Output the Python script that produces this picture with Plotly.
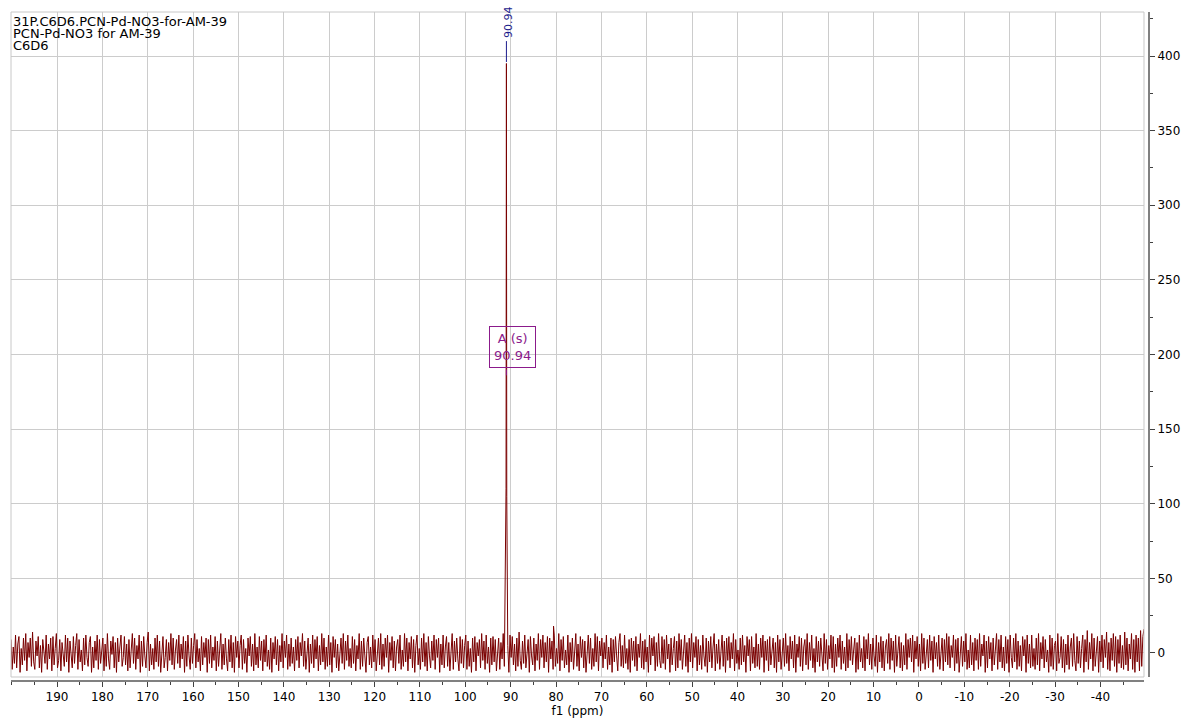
import numpy as np
import plotly.graph_objects as go

# ---------------- data ----------------
title_lines = ["31P.C6D6.PCN-Pd-NO3-for-AM-39", "PCN-Pd-NO3 for AM-39", "C6D6"]

ppm_start, ppm_end = 200.14, -49.6

noise_int = [
    9, -11, 4, -7, 12, -10, 6, 11, -13, 3, -8, 10, -5, 13, -12, 7, -3, 10, -9, 14, -6, -11, 8, -2, 11,
    -10, 5, -13, 9, 2, -7, 12, -11, 6, -4, 10, -12, 11, -8, 3, 13, -10, -5, 9, -12, 7, 1, -9, 12, -6,
    10, -13, 8, -2, -10, 11, -7, 5, 13, -11, 9, -6, 2, -12, 10, -8, 12, -3, -9, 7, 11, -13, 4, -10, 8,
    -5, 12, -11, 9, -7, 3, 10, -12, 6, -9, 13, -4, -11, 8, -1, 11, -10, 7, -13, 10, -6, 4, 12, -9, -3,
    11, -8, 6, -12, 9, -10, 2, 13, -7, 10, -11, 5, -4, 12, -13, 8, -9, 11, -2, -10, 7, 14, -12, 6, -8,
    3, -11, 10, -6, 12, -9, 8, -13, 4, 11, -10, -3, 9, -12, 7, -5, 13, -8, 10, -11, 2, 9, -7, 12, -10,
    6, -4, 11, -13, 8, -9, 12, -2, -11, 10, -7, 5, 13, -10, 9, -6, 3, -12, 11, -8, 7, -3, 10, -13, 9,
    -7, 12, -10, 4, -5, 11, -12, 8, -9, 2, 13, -11, 6, -8, 10, -4, -12, 9, -6, 12, -10, 7, -13, 11, -3,
    8, -10, 5, 12, -11, 9, -7, 3, -13, 10, -2, 11, -9, 6, -12, 13, -8, 4, -10, 11, -5, 8, -12, 9, -6,
    12, -9, 2, -11, 10, -13, 7, -4, 11, -8, 9, -12, 5, -6, 13, -10, 8, -3, 12, -11, 6, -9, 10, -7, 4,
    -12, 9, -5, 11, -10, 7, -2, 13, -9, 8, -11, 3, 10, -13, 6, -7, 12, -10, 9, -4, 11, -12, 5, -8, 13,
    -6, 10, -11, 4, -9, 12, -8, 7, -13, 11, -3, 9, -10, 6, -12, 2, 10, -7, 13, -11, 8, -5, 12, -9, 3,
    -10, 11, -7, 9, -12, 5, -4, 13, -11, 8, -9, 10, -2, -13, 7, 11, -8, 4, -10, 12, -6, 9, -12, 3, 10,
    -8, 13, -11, 6, -9, 10, -3, 12, -13, 7, -5, 11, -10, 8, -12, 4, 9, -7, 12, -11, 2, -9, 13, -6, 10,
    -12, 7, -4, 11, -10, 9, -13, 5, 12, -8, 3, -11, 10, -6, 13, -9, 7, -12, 11, -2, -10, 8, -5, 12, -11,
    9, -3, 10, -13, 6, -8, 12, -10, 4, 11, -9, 7, -12, 2, 13, -11, 8, -6, 10, -4, -12, 11, -7, 9, -10,
    5, 12, -11, 8, -9, 3, -13, 10, -6, 11, -12, 7, -2, 9, -10, 13, -5, 8, -11, 12, -7, 4, -13, 10, -8,
    11, -6, 9, -12, 2, 10, -11, 7, -4, 13, -9, 8, -10, 5, -13, 12, -3, 11, -8, 6, -12, 10, -9, 14, -5,
    -11, 8, -7, 12, -10, 4, 9, -13, 11, -2, -8, 10, -12, 6, -5, 13, -11, 9, -3, 12, -10, 7, -6, 11, -13,
    10, -4, 8, -11, 12, -9, 3, -7, 13, -12, 9, -5, 11, -10, 2, -8, 12, -13, 7, -6, 10, -11, 4, 13, -9,
    6, -12, 11, -3, 9, -10, 8, -13, 5, 12, -7, 10, -11, 3, -9, 13, -6, 11, -12, 8, -2, 10, -10, 7, -4,
    12, -11, 4, -8, 10, -13, 9, -6, 11, -2, -12, 7, 13, -9, 5, -10, 12, -7, 3, -11, 9, -13, 10, -5, 8,
    -9, 11, -12, 6, -3, 13, -10, 8, -11, 9, -6, 4, -13, 12, -8, 10, -2, 11, -12, 7, -9, 13, -5, -10, 11,
    -7, 9, -11, 12, -4, 6, -13, 10, -8, 3, 11, -12, 8, -10, 13, -5, 9, -11, 2, 12, -9, 7, -13, 10, -6,
    13, -10, 7, -3, 11, -12, 9, -8, 5, -11, 12, -2, -9, 10, -13, 8, -6, 11, -10, 4, 13, -12, 6, -7, 9,
    -11, 3, 12, -9, 8, -13, 10, -5, 11, -10, 7, -4, 13, -12, 9, -7, 2, -11, 10, -8, 12, -6, 5, -13, 11,
    -2, 9, -12, 11, -7, 4, -10, 13, -9, 6, -11, 10, -3, 12, -13, 8, -5, 9, -12, 11, -8, 3, 10, -10, 7,
    -13, 12, -6, 9, -11, 2, 10, -9, 13, -7, 5, -12, 11, -4, 8, -10, 12, -13, 6, -3, 11, -9, 10, -12, 4,
    9, -8, 13, -11, 7, -5, 12, -10, 3, -13, 11, -6, 8, -9, 10, -2, -12, 13, -7, 9, -11, 5, -4, 12, -10,
    11, -13, 6, -9, 10, -3, 12, -11, 8, -7, 4, -12, 13, -10, 9, -5, 11, -8, 2, 10, -13, 7, -11, 12, -6,
    3, -10, 11, -12, 9, -4, 13, -8, 6, -11, 10, -2, -9, 12, -13, 7, -6, 11, -10, 8, -12, 4, 9, -7, 13,
    -11, 10, -5, 8, -13, 12, -9, 3, 11, -10, 7, -12, 5, -8, 13, -11, 9, -3, 10, -6, 12, -13, 8, -4, 11,
    -9, 6, -12, 13, -7, 10, -11, 2, 9, -10, 12, -5, 8, -13, 11, -4, 7, -9, 12, -11, 3, 10, -12, 9, -6,
    13, -8, 11, -10, 5, -3, 12, -12, 9, -7, 10, -13, 4, 11, -9, 8, -6, 13, -11, 2, -10, 12, -8, 7, -12,
    10, -5, 9, -11, 13, -9, 6, -2, 12, -13, 8, -10, 11, -4, 7, -12, 10, -8, 3, 13, -11, 9, -6, 12, -10,
    4, -12, 11, -7, 9, -13, 12, -3, -10, 10, -6, 13, -11, 8, -9, 5, -12, 11, -2, 9, -13, 12, -7, 6, -10,
    12, -9, 3, -11, 10, -8, 13, -12, 7, -4, 11, -10, 9, -6, 2, -13, 12, -9, 10, -11, 5, 8, -12, 13, -7,
    -3, 11, -10, 9, -13, 6, -8, 12, -11, 4, 10, -9, 13, -5, -12, 11, -7, 8, -10, 3, 12, -13, 9, -6, 15,
    -11, 7, -4, 13, -12, 10, -9, 2, 11, -13, 8, -6, 12, -10, 9, -3, 14, -11, 7, -12, 10, -5, 13, -9, 11,
    -13, 9, -7, 12, -10, 5, -11, 14, -8, 10, -12, 6, -4, 13, -11, 9, -13, 12, -6, 10, -12, 15, -9, 11, 16,
]

peak_ppm = [91.02, 90.94, 90.86]
peak_int = [110, 395, 105]

spike_ppm = [80.55]
spike_int = [18]

peak_label = "90.94"
peak_pos = 90.94
multiplet_text = "A (s)<br>90.94"

x_ticks = list(range(190, -41, -10))
y_ticks = list(range(0, 401, 50))

# ---------------- build spectrum ----------------
noise_ppm = np.linspace(ppm_start, ppm_end, len(noise_int))
mask = (noise_ppm > 91.2) | (noise_ppm < 90.7)
all_ppm = np.concatenate([noise_ppm[mask], peak_ppm, spike_ppm])
all_int = np.concatenate([np.array(noise_int, float)[mask], peak_int, spike_int])
order = np.argsort(-all_ppm)
all_ppm = all_ppm[order]
all_int = all_int[order]

FONT = "DejaVu Sans"
GRID = "#cccccc"
AXIS = "#808080"

fig = go.Figure()
fig.add_trace(go.Scatter(x=all_ppm, y=all_int, mode="lines",
                         line=dict(color="#7a0000", width=1), hoverinfo="skip",
                         showlegend=False))

# peak label line + text
fig.add_shape(type="line", x0=peak_pos, x1=peak_pos, y0=396, y1=410,
              line=dict(color="#1c1c8c", width=1))
fig.add_annotation(x=peak_pos, y=411, text=peak_label, textangle=-90, showarrow=False,
                   xanchor="center", yanchor="bottom", xshift=2,
                   font=dict(family=FONT, size=11, color="#1c1c8c"))

# multiplet box
fig.add_annotation(x=89.6, y=205, text=multiplet_text, showarrow=False,
                   xanchor="center", yanchor="middle",
                   bordercolor="#8b1a8b", borderwidth=1, borderpad=4,
                   bgcolor="rgba(255,255,255,0)",
                   font=dict(family=FONT, size=13, color="#8b1a8b"))
fig.add_shape(type="line", x0=peak_pos, x1=peak_pos, y0=186, y1=190,
              line=dict(color="#8b1a8b", width=1))

# title lines
for i, t in enumerate(title_lines):
    fig.add_annotation(x=0, xref="x domain", y=423.4 - 8.2 * i, yref="y", text=t,
                       showarrow=False, xanchor="left", yanchor="middle", xshift=0,
                       font=dict(family=FONT, size=13, color="#000000"))

# plot frame
fig.add_shape(type="rect", xref="x domain", yref="y domain", x0=0, x1=1, y0=0, y1=1,
              line=dict(color="#c8c8c8", width=1), layer="above")

fig.update_layout(
    width=1186, height=722,
    margin=dict(l=11, r=37, t=12, b=41, autoexpand=False),
    paper_bgcolor="white", plot_bgcolor="white",
    font=dict(family=FONT, size=12, color="#000000"),
    showlegend=False,
    xaxis=dict(
        domain=[0, 0.9956], range=[ppm_start, ppm_end], anchor="free", position=0,
        automargin=False,
        tickmode="array", tickvals=x_ticks, ticktext=[str(v) for v in x_ticks],
        showgrid=True, gridcolor=GRID, gridwidth=1, zeroline=False,
        showline=True, linecolor=AXIS, linewidth=2,
        ticks="outside", ticklen=5, tickcolor="#404040", tickwidth=1,
        minor=dict(dtick=5, tick0=0, ticks="outside", ticklen=3, tickcolor="#404040", showgrid=False),
        tickfont=dict(family=FONT, size=12),
        title=dict(text="f1 (ppm)", standoff=0, font=dict(family=FONT, size=12)),
    ),
    yaxis=dict(
        domain=[0.006, 1], range=[-16.1, 429.5], side="right", anchor="free", position=1,
        automargin=False,
        tickmode="array", tickvals=y_ticks, ticktext=[str(v) for v in y_ticks],
        showgrid=True, gridcolor=GRID, gridwidth=1, zeroline=False,
        showline=True, linecolor=AXIS, linewidth=2,
        ticks="outside", ticklen=5, tickcolor="#404040", tickwidth=1,
        minor=dict(dtick=25, tick0=0, ticks="outside", ticklen=3, tickcolor="#404040", showgrid=False),
        tickfont=dict(family=FONT, size=12),
    ),
)

fig.write_html("out.html", config={"displayModeBar": False})

# remove the default page margin so the figure sits at the window's top-left corner
with open("out.html", "r", encoding="utf-8") as f:
    html = f.read()
html = html.replace("<head>", "<head><style>html,body{margin:0;padding:0;overflow:hidden;}</style>", 1)
with open("out.html", "w", encoding="utf-8") as f:
    f.write(html)
